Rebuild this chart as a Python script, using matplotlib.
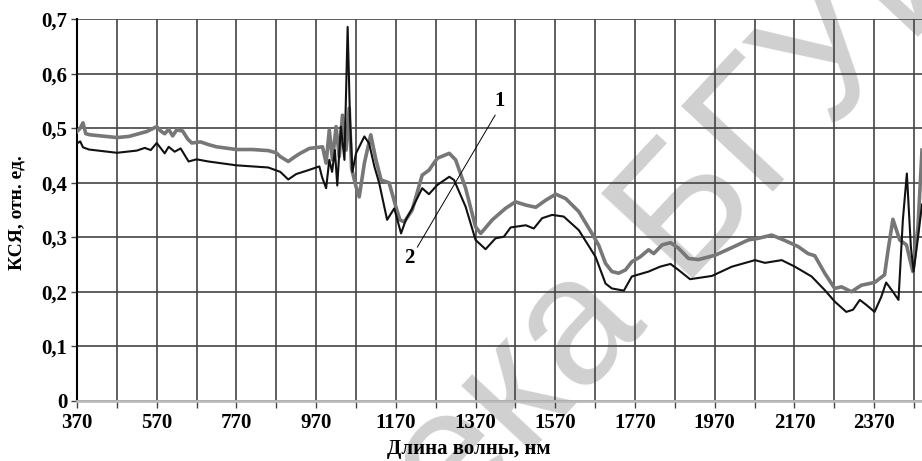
import matplotlib
matplotlib.use("Agg")
import matplotlib.pyplot as plt

# Curve 1 (gray, thick)
wl_1 = [370, 378, 385, 392, 403, 430, 470, 500, 520, 545, 570, 580, 590, 600, 610, 620, 635, 648, 658,
        680, 700, 720, 770, 810, 850, 870, 880, 900, 915, 930, 953, 986, 995, 1003, 1011, 1020, 1028,
        1036, 1045, 1053, 1059, 1070, 1078, 1091, 1107, 1120, 1133, 1145, 1153, 1170, 1180, 1191, 1211,
        1236, 1253, 1274, 1304, 1320, 1345, 1370, 1383, 1412, 1445, 1470, 1496, 1521, 1546, 1571, 1596,
        1629, 1662, 1679, 1696, 1712, 1729, 1746, 1762, 1783, 1804, 1817, 1838, 1859, 1879, 1904, 1929,
        1971, 2013, 2054, 2079, 2113, 2146, 2179, 2204, 2221, 2246, 2271, 2288, 2313, 2338, 2371, 2396,
        2405, 2417, 2434, 2451, 2467, 2480, 2490]
ksya_1 = [0.494, 0.500, 0.510, 0.490, 0.488, 0.486, 0.483, 0.485, 0.489, 0.494, 0.503, 0.495, 0.490,
          0.498, 0.486, 0.497, 0.495, 0.480, 0.473, 0.475, 0.470, 0.466, 0.461, 0.461, 0.459, 0.455,
          0.448, 0.439, 0.447, 0.454, 0.463, 0.466, 0.436, 0.497, 0.442, 0.503, 0.448, 0.524, 0.460,
          0.537, 0.426, 0.393, 0.374, 0.436, 0.488, 0.442, 0.405, 0.402, 0.400, 0.356, 0.332, 0.328,
          0.350, 0.414, 0.423, 0.445, 0.454, 0.442, 0.390, 0.319, 0.307, 0.332, 0.353, 0.365, 0.359,
          0.355, 0.368, 0.379, 0.371, 0.347, 0.307, 0.285, 0.252, 0.237, 0.234, 0.240, 0.255, 0.264,
          0.277, 0.270, 0.286, 0.290, 0.280, 0.261, 0.259, 0.267, 0.281, 0.295, 0.298, 0.304, 0.294,
          0.283, 0.270, 0.266, 0.234, 0.206, 0.209, 0.200, 0.212, 0.217, 0.231, 0.277, 0.333, 0.295,
          0.286, 0.237, 0.320, 0.460]

# Curve 2 (black, thin)
wl_2 = [370, 378, 385, 400, 470, 520, 540, 555, 570, 590, 600, 615, 630, 650, 670, 700, 770, 850, 880,
        900, 920, 950, 978, 985, 995, 1003, 1010, 1017, 1023, 1032, 1041, 1049, 1055, 1061, 1070, 1091,
        1103, 1116, 1128, 1148, 1166, 1183, 1195, 1211, 1236, 1253, 1274, 1304, 1316, 1345, 1370, 1395,
        1420, 1441, 1458, 1496, 1516, 1537, 1562, 1591, 1629, 1671, 1696, 1712, 1742, 1762, 1804, 1833,
        1859, 1879, 1908, 1963, 2013, 2071, 2096, 2138, 2171, 2213, 2246, 2271, 2300, 2317, 2334, 2350,
        2371, 2388, 2400, 2417, 2431, 2442, 2452, 2462, 2469, 2480, 2490]
ksya_2 = [0.472, 0.476, 0.465, 0.461, 0.455, 0.459, 0.464, 0.460, 0.473, 0.454, 0.466, 0.457, 0.463,
          0.439, 0.443, 0.439, 0.432, 0.428, 0.420, 0.406, 0.416, 0.423, 0.430, 0.410, 0.390, 0.442,
          0.420, 0.460, 0.395, 0.503, 0.442, 0.686, 0.515, 0.420, 0.454, 0.485, 0.472, 0.430, 0.400,
          0.332, 0.353, 0.307, 0.332, 0.353, 0.390, 0.379, 0.396, 0.411, 0.405, 0.356, 0.295, 0.278,
          0.298, 0.301, 0.318, 0.322, 0.316, 0.335, 0.341, 0.338, 0.313, 0.264, 0.215, 0.206, 0.202,
          0.228, 0.237, 0.246, 0.251, 0.240, 0.223, 0.229, 0.246, 0.258, 0.253, 0.258, 0.246, 0.228,
          0.203, 0.182, 0.163, 0.167, 0.185, 0.176, 0.163, 0.191, 0.217, 0.200, 0.185, 0.332, 0.417,
          0.283, 0.237, 0.300, 0.360]

x_ticks = list(range(370, 2491, 100))
x_tick_labels = [str(v) if (v - 370) % 200 == 0 else "" for v in x_ticks]
y_ticks = [0, 0.1, 0.2, 0.3, 0.4, 0.5, 0.6, 0.7]
y_tick_labels = ["0", "0,1", "0,2", "0,3", "0,4", "0,5", "0,6", "0,7"]

plt.rcParams['font.family'] = ['Liberation Serif', 'DejaVu Serif']

W, H = 922, 461
fig = plt.figure(figsize=(W / 100, H / 100), dpi=100)
ax = fig.add_axes([77 / W, (H - 400.7) / H, (W - 77) / W, (400.7 - 19.3) / H])
ax.patch.set_alpha(0)

# watermark
fig.text(529 / W, 1 - 454 / H, "Библиотека БГУИР", fontsize=130, color="#d0d0d0", rotation=47,
         rotation_mode="anchor", ha="center", va="baseline",
         family=["Liberation Sans", "DejaVu Sans"], zorder=-1)

ax.plot(wl_1, ksya_1, color="#777777", lw=2.6, zorder=3, solid_joinstyle="round")
ax.plot(wl_2, ksya_2, color="#111111", lw=1.5, zorder=4, solid_joinstyle="round")

ax.set_xlim(370, 2490)
ax.set_ylim(0, 0.7)
ax.set_xticks(x_ticks)
ax.set_xticklabels(x_tick_labels, fontsize=15, fontweight="bold")
ax.set_yticks(y_ticks)
ax.set_yticklabels(y_tick_labels, fontsize=15, fontweight="bold")
ax.grid(True, color="#444444", lw=1.2)
ax.set_axisbelow(True)
ax.tick_params(axis="x", length=5, width=1, color="#444444", pad=4)
ax.tick_params(axis="y", length=4, width=1, color="#444444", pad=3)
for s in ["top", "right"]:
    ax.spines[s].set_visible(False)
ax.spines["left"].set_color("black")
ax.spines["left"].set_linewidth(1.5)
ax.spines["bottom"].set_color("#bbbbbb")
ax.spines["bottom"].set_linewidth(2)

# annotations
ax.plot([1419, 1224], [0.524, 0.282], color="black", lw=0.7, zorder=5)
ax.text(1429, 0.55, "1", fontsize=15, fontweight="bold", ha="center", va="center")
ax.text(1203, 0.262, "2", fontsize=15, fontweight="bold", ha="center", va="center")

fig.text(469 / W, 1 - 449 / H, "Длина волны, нм", fontsize=15, fontweight="bold",
         ha="center", va="center")
fig.text(17 / W, 1 - 213 / H, "КСЯ, отн. ед.", fontsize=14, fontweight="bold",
         ha="center", va="center", rotation=90)

fig.savefig("out.png", dpi=100)
